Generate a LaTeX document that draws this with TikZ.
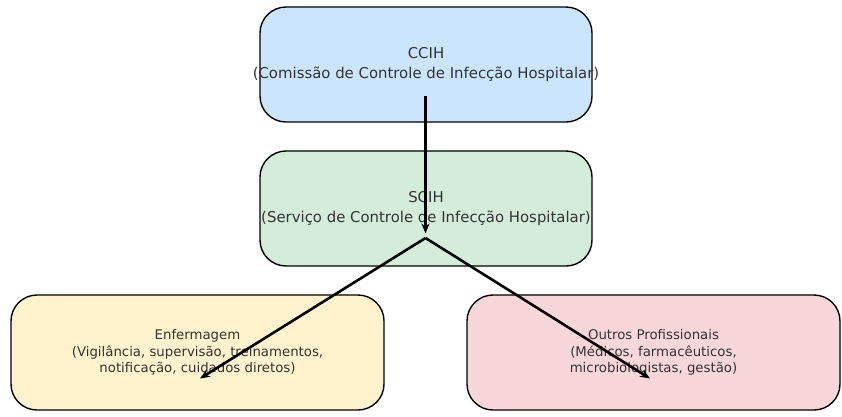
\documentclass[tikz,border=0pt]{standalone}
\usepackage{fontspec}
\setmainfont{DejaVu Sans}
\usetikzlibrary{arrows.meta,calc}
\definecolor{cblue}{HTML}{CCE5FF}
\definecolor{cgreen}{HTML}{D4EDDA}
\definecolor{cyellow}{HTML}{FFF3CD}
\definecolor{cpink}{HTML}{F8D7DA}
\definecolor{ctext}{HTML}{333333}
\tikzset{
  box/.style={draw=black, line width=1.4pt, rounded corners=26pt, minimum width=332pt, minimum height=115pt, align=center, text=ctext, inner sep=0pt},
  wide/.style={minimum width=373pt},
  conn/.style={line width=2.6pt, -{Stealth[length=10pt,width=8pt]}},
}
\begin{document}
\begin{tikzpicture}[x=1pt,y=-1pt]
\useasboundingbox (0,0) rectangle (842,416);
\node[box, fill=cblue, font=\fontsize{14.9}{20}\selectfont] (ccih) at (426,64.5) {CCIH\\\makebox[0pt][c]{(Comissão de Controle de Infecção Hospitalar)}};
\node[box, fill=cgreen, font=\fontsize{14.9}{20}\selectfont] (scih) at (426,208.5) {SCIH\\\makebox[0pt][c]{(Serviço de Controle de Infecção Hospitalar)}};
\node[box, wide, fill=cyellow, font=\fontsize{13.3}{16.5}\selectfont] (enf) at (197.5,352.5) {Enfermagem\\(Vigilância, supervisão, treinamentos,\\notificação, cuidados diretos)};
\node[box, wide, fill=cpink, font=\fontsize{13.3}{16.5}\selectfont] (out) at (653.5,352.5) {Outros Profissionais\\(Médicos, farmacêuticos,\\microbiologistas, gestão)};
\coordinate (c1) at ($(ccih.center)+(-0.5,31)$);
\coordinate (s1) at ($(scih.center)+(-0.5,25)$);
\coordinate (s2) at ($(scih.center)+(-0.5,29.5)$);
\coordinate (e1) at ($(enf.center)+(2.5,26)$);
\coordinate (o1) at ($(out.center)+(-3.5,26)$);
\draw[conn] (c1) -- (s1);
\draw[conn] (s2) -- (e1);
\draw[conn] (s2) -- (o1);
\end{tikzpicture}
\end{document}
